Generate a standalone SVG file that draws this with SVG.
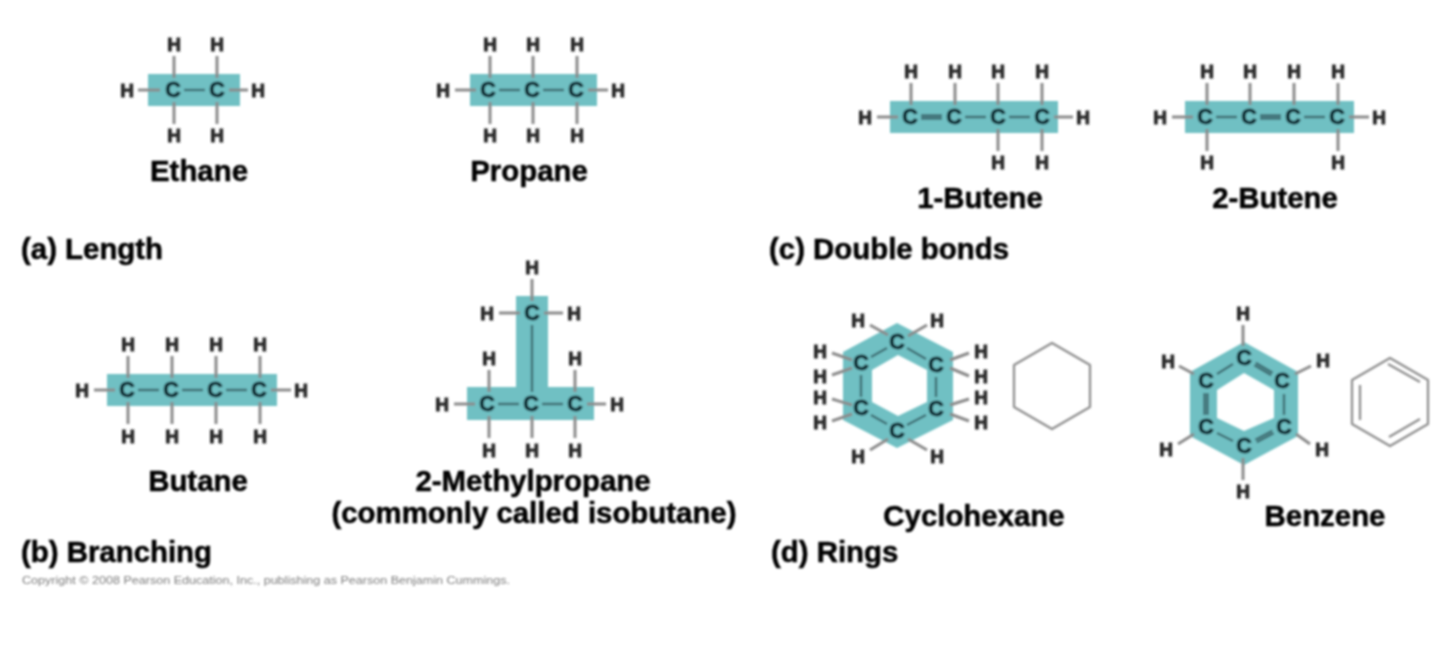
<svg xmlns="http://www.w3.org/2000/svg" width="1440" height="648" viewBox="0 0 1440 648">
<defs><filter id="soft" x="-2%" y="-2%" width="104%" height="104%"><feGaussianBlur stdDeviation="0.8"/></filter></defs>
<style>
text{font-family:"Liberation Sans",Arial,sans-serif;font-weight:700;text-anchor:middle;dominant-baseline:central}
.c{font-size:21.500px;fill:#102e36;stroke:#102e36;stroke-width:1}
.h{font-size:19px;fill:#2c2c2c;stroke:#2c2c2c;stroke-width:1}
.l{font-size:29.400px;fill:#000;stroke:#000;stroke-width:.5;transform:translateY(-.8px)}
.p{text-anchor:start}
.f{font-size:11px;font-weight:400;fill:#7c7c7c;text-anchor:start}
.band{fill:#6fc0c3}
.cc{stroke:#3d6a70;stroke-width:2.4;fill:none}
.ch{stroke:#8b8b8b;stroke-width:3;fill:none}
.o{stroke:#8f8f8f;stroke-width:2.3;fill:none;stroke-linejoin:round}
</style>
<rect width="1440" height="648" fill="#fff"/>
<g filter="url(#soft)">
<g id="bands">
<rect class="band" x="148" y="74" width="92" height="32"/>
<rect class="band" x="470" y="74" width="127" height="32"/>
<rect class="band" x="890" y="101" width="168" height="32"/>
<rect class="band" x="1185" y="101" width="169" height="32"/>
<rect class="band" x="107" y="374" width="170" height="32"/>
<path class="band" d="M516 296H548V387H594V420H467V387H516Z"/>
<path class="band" fill-rule="evenodd" d="M897 323L953 352V420L897 448L843 420V352ZM898 355L872 370V402L898 416L927 402V370Z"/>
<path class="band" fill-rule="evenodd" d="M1244 342L1298 372V436L1244 465L1190 436V372ZM1244 373L1217 390V418L1244 431L1274 418V390Z"/>
</g>
<g id="connectors">
<path class="ch" d="M138 90H160M229 90H248M174 56V78M217 56V78M174 102V124M217 102V124"/>
<path class="cc" d="M184 90H205"/>
<path class="ch" d="M455 90H476M588 90H608M490 56V78M533 56V78M577 56V78M490 102V124M533 102V124M577 102V124"/>
<path class="cc" d="M499 90H520M543 90H564"/>
<path class="ch" d="M877 117H898M1054 117H1073M911 83V105M955 83V105M998 83V105M1042 83V105M998 129V151M1042 129V151"/>
<path class="cc" d="M921 115.500H942M921 118.500H942M965 117H986M1009 117H1030"/>
<path class="ch" d="M1172 117H1193M1349 117H1369M1207 83V105M1250 83V105M1294 83V105M1338 83V105M1207 129V151M1338 129V151"/>
<path class="cc" d="M1216 117H1237M1260 115.500H1281M1260 118.500H1281M1304 117H1325"/>
<path class="ch" d="M94 390H115M271 390H291M128 356V378M172 356V378M216 356V378M260 356V378M128 402V424M172 402V424M216 402V424M260 402V424"/>
<path class="cc" d="M138 390H159M182 390H203M226 390H247"/>
<path class="ch" d="M532 279V301M499 313H520M544 313H563M489 370V392M575 370V392M454 404H475M587 404H606M489 416V438M532 416V438M575 416V438"/>
<path class="cc" d="M532 325V392M498 404H519M542 404H563"/>
<path class="ch" d="M870 325L888 335M927 325L908 336M832 353L852 360M832 375L852 368M832 399L852 405M832 421L852 414M969 353L950 360M969 376L950 368M969 399L950 405M969 421L950 414M870 450L888 439M927 450L908 439"/>
<path class="cc" d="M887 348L871 357M907 348L926 359M861 375V397M936 377V397M871 415L887 424M926 415L907 425"/>
<path class="ch" d="M1243 325V346M1179 366L1194 374M1311 366L1295 374M1178 444L1194 434M1310 444L1296 434M1243 458V480"/>
<path class="cc" d="M1233 364L1217 374M1284 394V415M1217 433L1233 441"/>
<path class="cc" d="M1255.700 362.700L1272.700 372.700M1254.300 365.300L1271.300 375.300M1204.500 393V415M1207.500 393V415M1256.700 442.300L1273.700 433.300M1255.300 439.700L1272.300 430.700"/>
</g>
<g id="ethane"><text class="c" x="173" y="90">C</text><text class="c" x="217" y="90">C</text><text class="h" x="174" y="44">H</text><text class="h" x="217" y="44">H</text><text class="h" x="174" y="135">H</text><text class="h" x="217" y="135">H</text><text class="h" x="127" y="90">H</text><text class="h" x="258" y="90">H</text><text class="l" x="199" y="171">Ethane</text></g>
<g id="propane"><text class="c" x="488" y="90">C</text><text class="c" x="532" y="90">C</text><text class="c" x="576" y="90">C</text><text class="h" x="490" y="44">H</text><text class="h" x="533" y="44">H</text><text class="h" x="577" y="44">H</text><text class="h" x="490" y="135">H</text><text class="h" x="533" y="135">H</text><text class="h" x="577" y="135">H</text><text class="h" x="443" y="90">H</text><text class="h" x="618" y="90">H</text><text class="l" x="529" y="171">Propane</text></g>
<g id="butene1"><text class="c" x="910" y="117">C</text><text class="c" x="954" y="117">C</text><text class="c" x="998" y="117">C</text><text class="c" x="1042" y="117">C</text><text class="h" x="911" y="71">H</text><text class="h" x="955" y="71">H</text><text class="h" x="998" y="71">H</text><text class="h" x="1042" y="71">H</text><text class="h" x="998" y="162">H</text><text class="h" x="1042" y="162">H</text><text class="h" x="865" y="117">H</text><text class="h" x="1083" y="117">H</text><text class="l" x="980" y="198">1-Butene</text></g>
<g id="butene2"><text class="c" x="1205" y="117">C</text><text class="c" x="1249" y="117">C</text><text class="c" x="1293" y="117">C</text><text class="c" x="1337" y="117">C</text><text class="h" x="1207" y="71">H</text><text class="h" x="1250" y="71">H</text><text class="h" x="1294" y="71">H</text><text class="h" x="1338" y="71">H</text><text class="h" x="1207" y="162">H</text><text class="h" x="1338" y="162">H</text><text class="h" x="1160" y="117">H</text><text class="h" x="1379" y="117">H</text><text class="l" x="1275" y="198">2-Butene</text></g>
<g id="butane"><text class="c" x="127" y="390">C</text><text class="c" x="171" y="390">C</text><text class="c" x="215" y="390">C</text><text class="c" x="259" y="390">C</text><text class="h" x="128" y="344">H</text><text class="h" x="172" y="344">H</text><text class="h" x="216" y="344">H</text><text class="h" x="260" y="344">H</text><text class="h" x="128" y="436">H</text><text class="h" x="172" y="436">H</text><text class="h" x="216" y="436">H</text><text class="h" x="260" y="436">H</text><text class="h" x="82" y="390">H</text><text class="h" x="301" y="390">H</text><text class="l" x="198" y="481">Butane</text></g>
<g id="isobutane"><text class="c" x="532" y="313">C</text><text class="c" x="487" y="404">C</text><text class="c" x="531" y="404">C</text><text class="c" x="575" y="404">C</text><text class="h" x="532" y="267">H</text><text class="h" x="487" y="313">H</text><text class="h" x="574" y="313">H</text><text class="h" x="489" y="358">H</text><text class="h" x="575" y="358">H</text><text class="h" x="442" y="404">H</text><text class="h" x="617" y="404">H</text><text class="h" x="489" y="450">H</text><text class="h" x="532" y="450">H</text><text class="h" x="575" y="450">H</text><text class="l" x="533" y="481">2-Methylpropane</text><text class="l" x="534" y="513">(commonly called isobutane)</text></g>
<g id="cyclohexane"><text class="c" x="897" y="342">C</text><text class="c" x="936" y="365">C</text><text class="c" x="936" y="409">C</text><text class="c" x="897" y="431">C</text><text class="c" x="861" y="408">C</text><text class="c" x="861" y="363">C</text><text class="h" x="858" y="320">H</text><text class="h" x="937" y="320">H</text><text class="h" x="820" y="351">H</text><text class="h" x="820" y="376">H</text><text class="h" x="820" y="397">H</text><text class="h" x="820" y="422">H</text><text class="h" x="981" y="351">H</text><text class="h" x="981" y="376">H</text><text class="h" x="981" y="397">H</text><text class="h" x="981" y="422">H</text><text class="h" x="858" y="456">H</text><text class="h" x="937" y="456">H</text><text class="l" x="974" y="516">Cyclohexane</text></g>
<g id="cyclohexane-outline"><path class="o" d="M1052 343L1090 365V407L1052 429L1014 407V365Z"/></g>
<g id="benzene"><text class="c" x="1244" y="358">C</text><text class="c" x="1282" y="381">C</text><text class="c" x="1284" y="427">C</text><text class="c" x="1244" y="446">C</text><text class="c" x="1206" y="427">C</text><text class="c" x="1206" y="381">C</text><text class="h" x="1243" y="313">H</text><text class="h" x="1168" y="361">H</text><text class="h" x="1323" y="360">H</text><text class="h" x="1166" y="449">H</text><text class="h" x="1322" y="449">H</text><text class="h" x="1243" y="491">H</text><text class="l" x="1325" y="516">Benzene</text></g>
<g id="benzene-outline"><path class="o" d="M1390 358L1428 380V424L1390 446L1352 424V380ZM1360 385V420M1388 364L1420 382M1389 437L1420 419"/></g>
<g id="captions"><text class="l p" x="21" y="249">(a) Length</text><text class="l p" x="769" y="249">(c) Double bonds</text><text class="l p" x="21" y="552">(b) Branching</text><text class="l p" x="771" y="552">(d) Rings</text><text class="f" x="22" y="580" textLength="488" lengthAdjust="spacingAndGlyphs">Copyright © 2008 Pearson Education, Inc., publishing as Pearson Benjamin Cummings.</text></g>
</g>
</svg>
